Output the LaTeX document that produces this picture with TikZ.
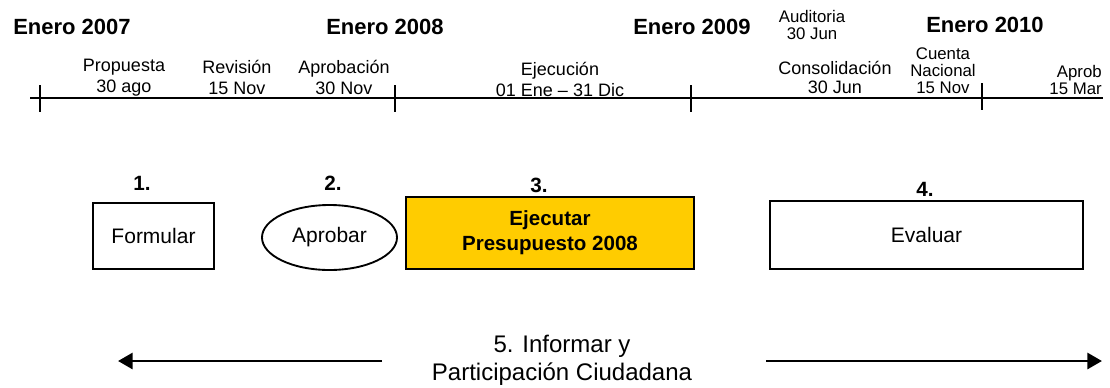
\documentclass[tikz,border=0pt]{standalone}
\usepackage{fontspec}
\setmainfont{Liberation Sans}
\usetikzlibrary{arrows.meta,shapes.geometric}
\definecolor{gold}{HTML}{FFCC00}
\begin{document}
\begin{tikzpicture}[x=0.75pt,y=-0.75pt,
  year/.style={font=\fontsize{16.5}{19}\selectfont\bfseries, inner sep=0pt},
  lab/.style={font=\fontsize{13.5}{15.75}\selectfont, align=center, inner sep=0pt},
  tightlab/.style={lab, font=\fontsize{12.6}{12.6}\selectfont},
  num/.style={font=\fontsize{15.5}{18}\selectfont\bfseries, inner sep=0pt},
  stage/.style={draw=black, line width=1.4pt, font=\fontsize{15.75}{18}\selectfont, inner sep=0pt},
  axis/.style={line width=1.5pt},
  flow/.style={line width=2.2pt, -{Triangle[length=11pt,width=12pt]}}
]
\useasboundingbox (0,0) rectangle (1110,387);

% years
\node[year] (y7) at (72,27) {Enero 2007};
\node[year] (y8) at (385,27) {Enero 2008};
\node[year] (y9) at (692,27) {Enero 2009};
\node[year] (y10) at (985,25) {Enero 2010};

% timeline
\coordinate (tl) at (30,98);
\coordinate (tr) at (1103,98);
\draw[axis] (tl) -- (tr);
\coordinate (a1) at (40,85);  \coordinate (b1) at (40,112);
\coordinate (a2) at (395,85); \coordinate (b2) at (395,112);
\coordinate (a3) at (691,85); \coordinate (b3) at (691,112);
\coordinate (a4) at (982,83); \coordinate (b4) at (982,110);
\draw[axis] (a1) -- (b1);
\draw[axis] (a2) -- (b2);
\draw[axis] (a3) -- (b3);
\draw[axis] (a4) -- (b4);

% timeline labels
\node[lab] (propuesta) at (124,77.5) {Propuesta\\30 ago};
\node[lab] (revision) at (237,77.5) {Revisión\\15 Nov};
\node[lab] (aprobacion) at (344,77.5) {Aprobación\\30 Nov};
\node[lab] (ejecucion) at (560,79) {Ejecución\\01 Ene – 31 Dic};
\node[tightlab] (auditoria) at (812,25) {Auditoria\\30 Jun};
\node[lab, font=\fontsize{13.5}{14.25}\selectfont] (consol) at (835,77.5) {Consolidación\\30 Jun};
\node[tightlab] (cuenta) at (943,70.5) {Cuenta\\Nacional\\15 Nov};
\node[tightlab, align=right, anchor=east] (aprob) at (1102,80) {Aprob\\15 Mar};

% stage numbers
\node[num] (n1) at (142,183) {1.};
\node[num] (n2) at (333,183) {2.};
\node[num] (n3) at (539,185) {3.};
\node[num] (n4) at (925,189) {4.};

% stages
\node[stage, rectangle, minimum width=121*0.75pt, minimum height=66*0.75pt] (formular) at (153.5,236) {Formular};
\node[stage, ellipse, minimum width=135*0.75pt, minimum height=65*0.75pt] (aprobar) at (329.5,237.5) {Aprobar};
\node[stage, rectangle, fill=gold, align=center, font=\fontsize{15.4}{18.75}\selectfont\bfseries, minimum width=288*0.75pt, minimum height=72*0.75pt] (ejecutar) at (550,233) {Ejecutar\\Presupuesto 2008};
\node[stage, rectangle, minimum width=313*0.75pt, minimum height=68*0.75pt] (evaluar) at (926.5,235) {Evaluar};

% information and participation
\node[lab, font=\fontsize{18}{21}\selectfont] (informar) at (562,360) {5. Informar y\\Participación Ciudadana};
\coordinate (ls) at (382,361);
\coordinate (le) at (118,361);
\coordinate (rs) at (766,361);
\coordinate (re) at (1102,361);
\draw[flow] (ls) -- (le);
\draw[flow] (rs) -- (re);
\end{tikzpicture}
\end{document}
